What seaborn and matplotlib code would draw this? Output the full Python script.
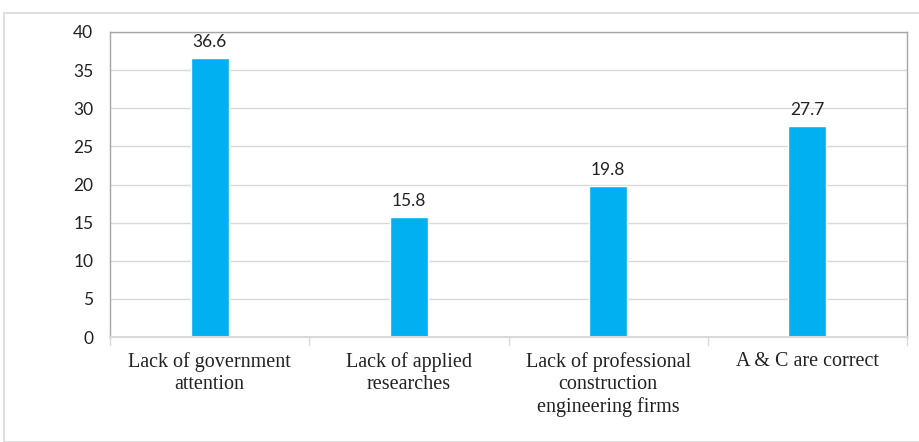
import matplotlib
matplotlib.use("Agg")
import matplotlib.pyplot as plt
import seaborn as sns
import pandas as pd
from matplotlib.patches import Rectangle

categories = ["Lack of government\nattention", "Lack of applied\nresearches",
              "Lack of professional\nconstruction\nengineering firms", "A & C are correct"]
values = [36.6, 15.8, 19.8, 27.7]
yticks = [0, 5, 10, 15, 20, 25, 30, 35, 40]

sns.set_theme(style="white")
plt.rcParams['font.family'] = ['Lato', 'DejaVu Sans']

df = pd.DataFrame({"cat": categories, "val": values})

fig = plt.figure(figsize=(9.19, 4.42), dpi=100)
ax = fig.add_axes([110/919, 1-337/442, (907-110)/919, (337-32)/442])
sns.barplot(data=df, x="cat", y="val", color="#00B0F0", width=0.19, ax=ax, saturation=1)

ax.set_ylim(0, 40)
ax.set_xlim(-0.5, 3.5)
ax.set_yticks(yticks)
ax.set_yticklabels([str(t) for t in yticks], fontsize=12.5, color="#222222")
ax.yaxis.grid(True, color="#d9d9d9", linewidth=1)
ax.set_axisbelow(True)
ax.set_xlabel("")
ax.set_ylabel("")
ax.tick_params(axis='y', length=0, pad=12)
ax.set_xticks([0, 1, 2, 3])
ax.set_xticklabels(categories, fontsize=14.5, family=['Liberation Serif'], color="#222222",
                   linespacing=1.2)
ax.tick_params(axis='x', length=0, pad=11)
for b in [-0.5, 0.5, 1.5, 2.5, 3.5]:
    ax.plot([b, b], [0, -0.025], transform=ax.get_xaxis_transform(), color="#d9d9d9",
            linewidth=1, clip_on=False)
for s in ["left", "top", "right"]:
    ax.spines[s].set_visible(True)
    ax.spines[s].set_color("#a6a6a6")
    ax.spines[s].set_linewidth(1)
ax.spines["bottom"].set_color("#d9d9d9")
ax.spines["bottom"].set_linewidth(1.5)

for i, v in enumerate(values):
    ax.text(i, v + 1.0, f"{v}", ha="center", va="bottom", fontsize=12.5, color="#222222")

fig.patches.append(Rectangle((4/919, 0), 1.2, 1-13/442, transform=fig.transFigure,
                             fill=False, edgecolor="#d9d9d9", linewidth=1.2))

fig.savefig("out.png", dpi=100)
